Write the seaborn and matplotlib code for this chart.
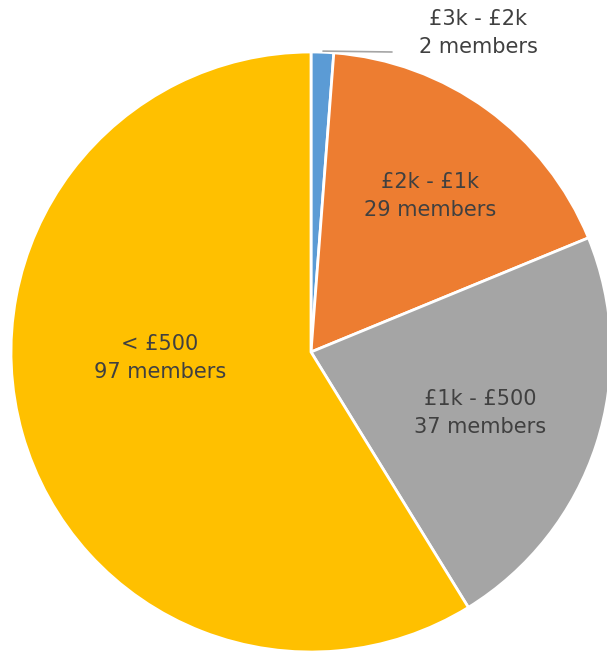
import matplotlib
matplotlib.use("Agg")
import matplotlib.pyplot as plt
import seaborn as sns

# membership by band
bands = ["£3k - £2k", "£2k - £1k", "£1k - £500", "< £500"]
members = [2, 29, 37, 97]
colours = ["#5B9BD5", "#ED7D31", "#A5A5A5", "#FFC000"]

# label centres (pie radius = 1)
label_pos = [(0.557, 1.063), (0.397, 0.52), (0.563, -0.203), (-0.503, -0.02)]

sns.set_style("white")
plt.rcParams['font.family'] = ['DejaVu Sans']

fig = plt.figure(figsize=(6.07, 6.55), dpi=100)
ax = fig.add_axes([11 / 607, 3 / 655, 600 / 607, 600 / 655])

wedges, _ = ax.pie(members, colors=colours, startangle=90, counterclock=False,
                   radius=1, wedgeprops=dict(edgecolor="white", linewidth=2))
for w in wedges:
    w.set_clip_on(False)

for band, n, (x, y) in zip(bands, members, label_pos):
    ax.text(x, y, f"{band}\n{n} members", ha="center", va="center",
            fontsize=15, color="#404040", linespacing=1.5, clip_on=False)

# leader line for the small slice
ax.plot([0.04, 0.27], [1.003, 1.0], color="#A5A5A5", lw=1.2, clip_on=False)

ax.set_xlim(-1, 1)
ax.set_ylim(-1, 1)
ax.set_aspect("equal")
ax.axis("off")

plt.savefig("out.png", dpi=100)
